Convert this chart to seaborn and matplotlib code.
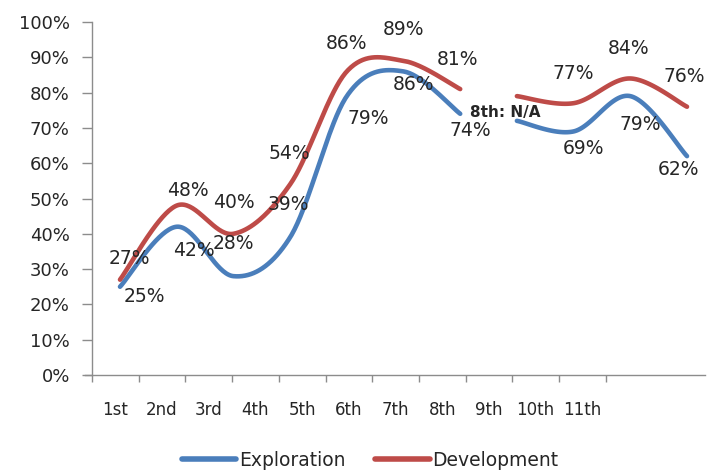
import numpy as np
import pandas as pd
import matplotlib
matplotlib.use("Agg")
import matplotlib.pyplot as plt
import seaborn as sns

# ---- data -------------------------------------------------------------
categories = ["1st", "2nd", "3rd", "4th", "5th", "6th", "7th", "8th", "9th", "10th", "11th"]
exploration = [25, 42, 28, 39, 79, 86, 74, 72, 69, 79, 62]
development = [27, 48, 40, 54, 86, 89, 81, 79, 77, 84, 76]
# the 8th period is reported as N/A: no value labels there and the line breaks before it
segments = [list(range(0, 7)), list(range(7, 11))]
labelled = [0, 1, 2, 3, 4, 5, 6, 8, 9, 10]
yticks = list(range(0, 101, 10))

# label offsets (pixels) relative to each point
expl_offsets = {0: (24, -10), 1: (17, -24), 2: (0, 33), 3: (-2, 33), 4: (21, -22),
                5: (10, -13), 6: (10, -17), 8: (10, -17), 9: (10, -28), 10: (-9, -13)}
dev_offsets = {0: (9, 21), 1: (11, 15), 2: (0, 31), 3: (-1, 31), 4: (0, 28),
               5: (0, 31), 6: (-3, 30), 8: (0, 30), 9: (-2, 30), 10: (-3, 30)}

BLUE = "#4A7EBB"
RED = "#BE4B48"
TXT = "#262626"


def smooth(xs, ys, n=40):
    """Smoothed curve through the points (cubic Bezier, Catmull-Rom tangents)."""
    pts = np.column_stack([xs, ys]).astype(float)
    out = []
    for i in range(len(pts) - 1):
        p0 = pts[i - 1] if i > 0 else pts[i]
        p1, p2 = pts[i], pts[i + 1]
        p3 = pts[i + 2] if i + 2 < len(pts) else pts[i + 1]
        c1 = p1 + (p2 - p0) / 6.0
        c2 = p2 - (p3 - p1) / 6.0
        t = np.linspace(0, 1, n)[:, None]
        seg = (1 - t) ** 3 * p1 + 3 * (1 - t) ** 2 * t * c1 + 3 * (1 - t) * t ** 2 * c2 + t ** 3 * p2
        out.append(seg if i == 0 else seg[1:])
    return np.vstack(out)


rows = []
for name, vals in (("Exploration", exploration), ("Development", development)):
    for k, idx in enumerate(segments):
        curve = smooth(idx, [vals[i] for i in idx])
        for x, y in curve:
            rows.append({"x": x, "y": y, "series": name, "segment": f"{name}-{k}"})
df = pd.DataFrame(rows)

# ---- figure -----------------------------------------------------------
sns.set_theme(style="white")
plt.rcParams["font.family"] = ["DejaVu Sans"]

W, H = 710, 470
fig = plt.figure(figsize=(W / 100, H / 100), dpi=100)
left, right, bottom, top = 92, 705, 375, 22
ax = fig.add_axes([left / W, 1 - bottom / H, (right - left) / W, (bottom - top) / H])

# category axis
cat_w = 46.7
ax.set_xlim(-0.5, -0.5 + (right - left) / cat_w)
ax.set_ylim(0, 100)
ax.set_xticks(range(len(categories)))
ax.set_xticklabels(categories, fontsize=12, color=TXT)
ax.set_xticks([i + 0.5 for i in range(-1, len(categories))], minor=True)
ax.tick_params(axis="x", which="major", length=0, pad=19)
ax.tick_params(axis="x", which="minor", length=5, width=1, color="#8c8c8c", direction="out", bottom=True)
ax.set_yticks(yticks)
ax.set_yticklabels([f"{v}%" for v in yticks], fontsize=13, color=TXT)
ax.tick_params(axis="y", length=7, width=1, color="#8c8c8c", pad=9, left=True)
for s in ("top", "right"):
    ax.spines[s].set_visible(False)
for s in ("left", "bottom"):
    ax.spines[s].set_color("#8c8c8c")
    ax.spines[s].set_linewidth(1)
ax.spines["bottom"].set_bounds(-0.65, ax.get_xlim()[1])

# series axis sharing the value scale
ax2 = ax.twiny()
pt_w = 56.7
ax2.set_xlim(-(120 - left) / pt_w, (right - 120) / pt_w)
sns.lineplot(data=df, x="x", y="y", hue="series", units="segment", estimator=None,
             sort=False, palette={"Exploration": BLUE, "Development": RED},
             linewidth=3.3, ax=ax2, legend=True)
for ln in ax2.get_lines():
    ln.set_solid_capstyle("round")
ax2.set_ylim(0, 100)
ax2.set_xlabel("")
ax2.set_ylabel("")
ax.set_xlabel("")
ax.set_ylabel("")
ax2.set_xticks([])
for s in ax2.spines.values():
    s.set_visible(False)

handles, labels = ax2.get_legend_handles_labels()
ax2.get_legend().remove()
for h in handles:
    h.set_linewidth(4)
fig.legend(handles, labels, loc="center", bbox_to_anchor=(370 / W, 1 - 460 / H), ncol=2,
           frameon=False, fontsize=13.5, handlelength=2.9, handletextpad=0.15,
           columnspacing=1.6, labelcolor=TXT)

# value labels
for i in labelled:
    ax2.annotate(f"{exploration[i]}%", xy=(i, exploration[i]), xytext=expl_offsets[i],
                 textcoords="offset pixels", ha="center", va="center", fontsize=13.5, color=TXT)
    ax2.annotate(f"{development[i]}%", xy=(i, development[i]), xytext=dev_offsets[i],
                 textcoords="offset pixels", ha="center", va="center", fontsize=13.5, color=TXT)

ax2.annotate("8th: N/A", xy=(7, exploration[7]), xytext=(-12, 8), textcoords="offset pixels",
             ha="center", va="center", fontsize=11, fontweight="bold", color=TXT)

fig.savefig("out.png", dpi=100, facecolor="white")
